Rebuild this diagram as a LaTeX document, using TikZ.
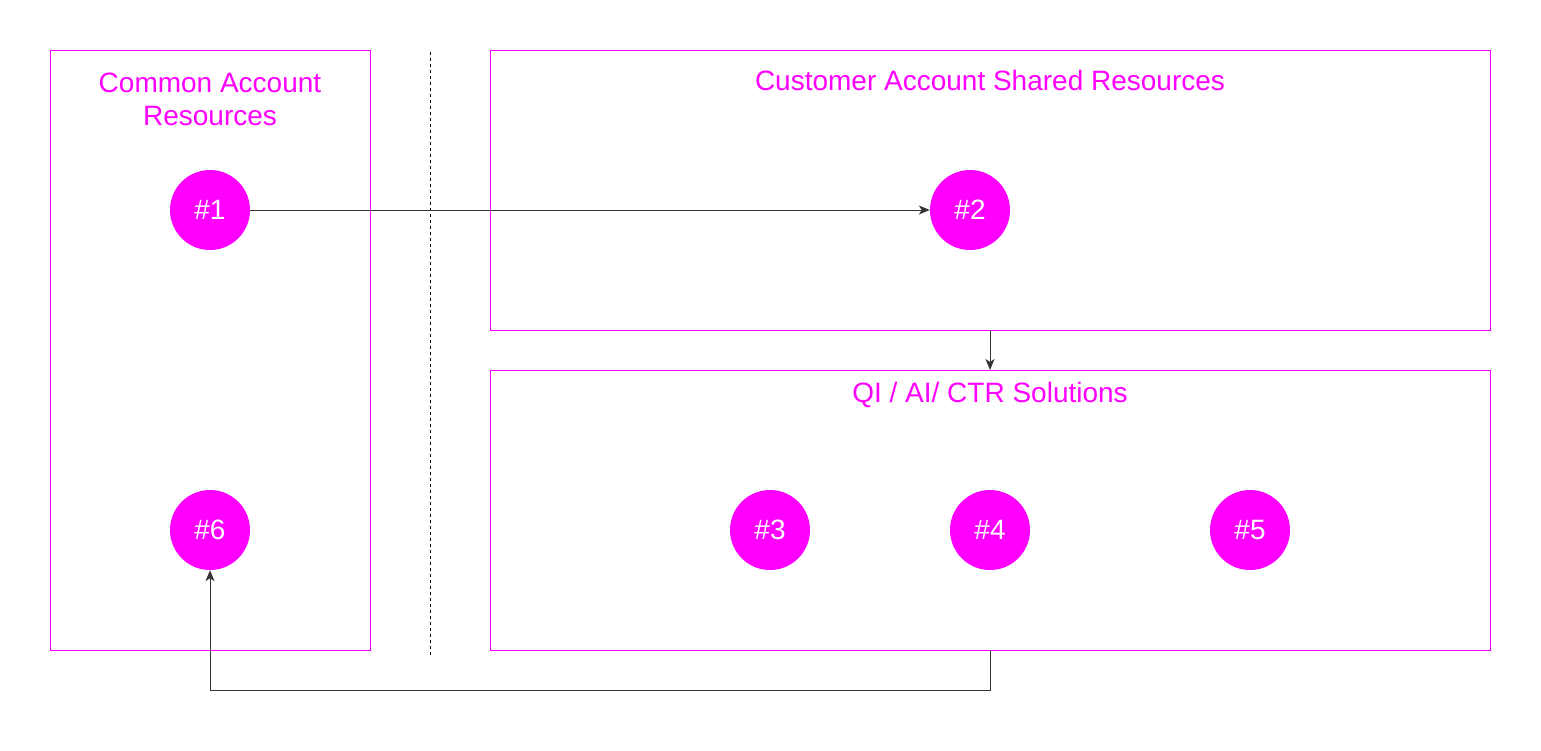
\documentclass[tikz,border=0pt]{standalone}
\usepackage{fontspec}
\setmainfont{Liberation Sans}
\usetikzlibrary{arrows.meta}
\definecolor{mag}{HTML}{FF00FF}
\definecolor{ln}{HTML}{333333}
\tikzset{
  grp/.style={draw=mag, line width=1pt},
  title/.style={text=mag, font=\fontsize{28}{33}\selectfont, align=center, inner sep=0pt},
  dot/.style={circle, fill=mag, draw=none, minimum size=80pt, inner sep=0pt, text=white, font=\fontsize{28}{33}\selectfont},
  conn/.style={draw=ln, line width=1pt, -{Stealth[length=11pt,width=9pt,inset=3pt]}},
}
\begin{document}
\begin{tikzpicture}[x=1pt,y=-1pt]
\useasboundingbox (0,0) rectangle (1541,750);
% boxes
\draw[grp] (50,50) rectangle (370,650);
\draw[grp] (490,50) rectangle (1490,330);
\draw[grp] (490,370) rectangle (1490,650);
\coordinate (topbot) at (990,330);
\coordinate (bottop) at (990,370);
\coordinate (botbot) at (990,650);
\coordinate (dtop) at (430,52);
\coordinate (dbot) at (430,656);
\draw[black, line width=1pt, dash pattern=on 3pt off 3pt] (dtop) -- (dbot);
% titles
\node[title] (t1) at (210,99.5) {Common Account\\Resources};
\node[title] (t2) at (990,80) {Customer Account Shared Resources};
\node[title] (t3) at (990,395) {QI / AI/ CTR Solutions};
% circles
\node[dot] (n1) at (210,210) {\raisebox{-2pt}{\#1}};
\node[dot] (n2) at (970,210) {\raisebox{-2pt}{\#2}};
\node[dot] (n3) at (770,530) {\raisebox{-2pt}{\#3}};
\node[dot] (n4) at (990,530) {\raisebox{-2pt}{\#4}};
\node[dot] (n5) at (1250,530) {\raisebox{-2pt}{\#5}};
\node[dot] (n6) at (210,530) {\raisebox{-2pt}{\#6}};
% connectors
\draw[conn] (n1) -- (n2);
\draw[conn] (topbot) -- (bottop);
\coordinate (c1) at (990,690);
\coordinate (c2) at (210,690);
\draw[conn] (botbot) -- (c1) -- (c2) -- (n6);
\end{tikzpicture}
\end{document}
